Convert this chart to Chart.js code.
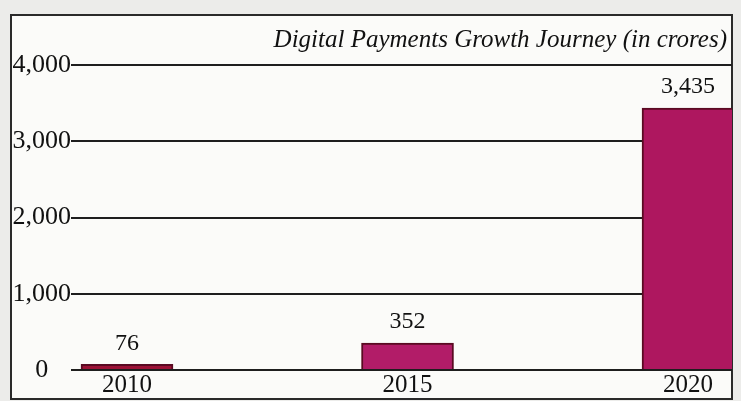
<!DOCTYPE html>
<html>
<head>
<meta charset="utf-8">
<script src="https://cdn.jsdelivr.net/npm/chart.js@4.4.1/dist/chart.umd.min.js"></script>
<style>
  html, body { margin: 0; padding: 0; background: #ececea; }
  #wrap { position: absolute; left: 0; top: 0; width: 741px; height: 401px; }
</style>
</head>
<body>
<div id="wrap"><canvas id="c"></canvas></div>
<script>
const years = [2010, 2015, 2020];
const payments = [76, 352, 3435];
const valueLabels = ['76', '352', '3,435'];
const yTicks = [0, 1000, 2000, 3000, 4000];
const titleText = 'Digital Payments Growth Journey (in crores)';
const barFills = ['#9c1236', '#b21c68', '#ae175f'];

const serif = '"Liberation Serif", "Times New Roman", serif';

const framePlugin = {
  id: 'frame',
  beforeDraw(chart) {
    const ctx = chart.ctx;
    ctx.save();
    ctx.fillStyle = '#fbfbf9';
    ctx.fillRect(11, 15, 721, 384);
    ctx.strokeStyle = '#2a2a2a';
    ctx.lineWidth = 2;
    ctx.strokeRect(11, 15, 721, 384);
    ctx.restore();
  },
  afterDraw(chart) {
    const ctx = chart.ctx;
    ctx.save();
    ctx.fillStyle = '#111';
    ctx.font = 'italic 25px ' + serif;
    ctx.textAlign = 'right';
    ctx.textBaseline = 'middle';
    ctx.fillText(titleText, 727, 40);
    ctx.font = '24px ' + serif;
    ctx.textAlign = 'center';
    ctx.textBaseline = 'middle';
    const meta = chart.getDatasetMeta(0);
    meta.data.forEach((bar, i) => {
      ctx.fillText(valueLabels[i], bar.x, bar.y - 21);
    });
    ctx.restore();
  }
};

new Chart(document.getElementById('c'), {
  type: 'bar',
  data: {
    datasets: [{
      data: years.map((y, i) => ({ x: y, y: payments[i] })),
      backgroundColor: barFills,
      borderColor: '#5a0a22',
      borderWidth: 2,
      barThickness: 92
    }]
  },
  options: {
    responsive: true,
    maintainAspectRatio: false,
    animation: false,
    layout: { padding: { top: 65, right: 9, bottom: 3, left: 0 } },
    plugins: { legend: { display: false }, tooltip: { enabled: false }, title: { display: false } },
    scales: {
      x: {
        type: 'linear',
        offset: false,
        min: 2009.073,
        max: 2020.784,
        afterBuildTicks(scale) { scale.ticks = years.map(v => ({ value: v })); },
        afterFit(scale) { scale.height = 28; },
        grid: { display: false, drawTicks: false },
        border: { display: false },
        ticks: {
          padding: 0,
          color: '#111',
          font: { family: serif, size: 25 },
          callback: v => String(v),
          autoSkip: false,
          maxRotation: 0
        }
      },
      y: {
        min: 0,
        max: 4000,
        afterBuildTicks(scale) { scale.ticks = yTicks.map(v => ({ value: v })); },
        afterFit(scale) { scale.width = 75; },
        border: { display: false },
        grid: { color: '#1e1e1e', lineWidth: 2, drawTicks: true, tickLength: 4, tickColor: '#1e1e1e' },
        ticks: {
          padding: 0,
          crossAlign: 'center',
          color: '#111',
          font: { family: serif, size: 26 },
          callback: v => v.toLocaleString('en-US')
        }
      }
    }
  },
  plugins: [framePlugin]
});
</script>
</body>
</html>
